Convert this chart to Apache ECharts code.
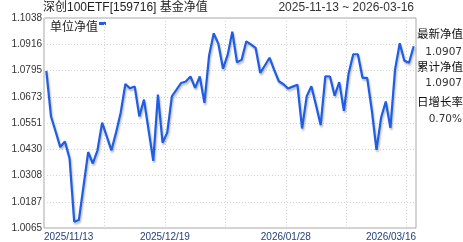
<!DOCTYPE html>
<html>
<head>
<meta charset="utf-8">
<script src="https://cdn.jsdelivr.net/npm/echarts@6/dist/echarts.min.js"></script>
<style>html,body{margin:0;padding:0;background:#fff}#c{width:463px;height:242px}</style>
</head>
<body>
<div id="c"></div>
<script>
const dates = [
  '2025-11-13','2025-11-14','2025-11-17','2025-11-18','2025-11-19','2025-11-20','2025-11-21','2025-11-24','2025-11-25','2025-11-26','2025-11-27','2025-11-28',
  '2025-12-01','2025-12-02','2025-12-03','2025-12-04','2025-12-05','2025-12-08','2025-12-09','2025-12-10','2025-12-11','2025-12-12','2025-12-15','2025-12-16','2025-12-17','2025-12-18','2025-12-19','2025-12-22','2025-12-23','2025-12-24','2025-12-25','2025-12-26','2025-12-29','2025-12-30','2025-12-31',
  '2026-01-05','2026-01-06','2026-01-07','2026-01-08','2026-01-09','2026-01-12','2026-01-13','2026-01-14','2026-01-15','2026-01-16','2026-01-19','2026-01-20','2026-01-21','2026-01-22','2026-01-23','2026-01-26','2026-01-27','2026-01-28','2026-01-29','2026-01-30',
  '2026-02-02','2026-02-03','2026-02-04','2026-02-05','2026-02-06','2026-02-09','2026-02-10','2026-02-11','2026-02-12','2026-02-13','2026-02-24','2026-02-25','2026-02-26','2026-02-27',
  '2026-03-02','2026-03-03','2026-03-04','2026-03-05','2026-03-06','2026-03-09','2026-03-10','2026-03-11','2026-03-12','2026-03-13','2026-03-16'
];
const nav = [
  1.0793,1.0583,1.0512,1.0440,1.0466,1.0387,1.0094,1.0102,1.0259,1.0417,
  1.0364,1.0425,1.0553,1.0489,1.0425,1.0508,1.0600,1.0732,1.0712,1.0721,
  1.0582,1.0660,1.0517,1.0376,1.0683,1.0460,1.0507,1.0675,1.0706,1.0737,
  1.0744,1.0767,1.0714,1.0767,1.0645,1.0863,1.0967,1.0918,1.0803,1.0867,
  1.0975,1.0833,1.0844,1.0930,1.0916,1.0900,1.0784,1.0818,1.0854,1.0798,
  1.0745,1.0731,1.0711,1.0720,1.0729,1.0526,1.0676,1.0722,1.0634,1.0542,
  1.0768,1.0767,1.0678,1.0741,1.0608,1.0780,1.0870,1.0870,1.0761,1.0761,
  1.0610,1.0427,1.0577,1.0651,1.0529,1.0800,1.0921,1.0840,1.0831,1.0907
];
const yTickLabels = ['1.0065','1.0187','1.0308','1.0430','1.0551','1.0673','1.0795','1.0916','1.1038'];
const yRange = [1.0065, 1.1038];
const xTickPos = [0, 26, 52, 80];
const xTickLabels = ['2025/11/13','2025/12/19','2026/01/28','2026/03/16'];
const fundTitle = '深创100ETF[159716] 基金净值';
const rangeText = '2025-11-13 ~ 2026-03-16';
const seriesName = '单位净值';
const infoLabels = ['最新净值','累计净值','日增长率'];
const infoValues = ['1.0907','1.0907','0.70%'];

const LINE = '#1e5ee6';
const FONT = '"Liberation Sans", "Noto Sans CJK SC", sans-serif';
const CJK = '"Noto Sans CJK SC", sans-serif';
const NUM = '"DejaVu Sans", sans-serif';
const dotted = {color:'#d4d4d4', type:[1,2], width:1};

const chart = echarts.init(document.getElementById('c'), null, {renderer:'canvas'});
const infoY = [[34,52],[67,83],[102,119]];
const graphics = [
  {type:'text', x:43, y:8, style:{text:fundTitle, fontSize:12, fontFamily:FONT, fill:'#222', verticalAlign:'middle'}},
  {type:'text', x:414, y:8, style:{text:rangeText, fontSize:12, fontFamily:FONT, fill:'#333', align:'right', verticalAlign:'middle'}},
  {type:'text', x:50, y:26, style:{text:seriesName, fontSize:12, fontFamily:CJK, fill:'#222', verticalAlign:'middle'}},
  {type:'rect', shape:{x:99, y:22, width:7, height:3}, style:{fill:LINE}}
];
infoLabels.forEach((t,i)=>{
  graphics.push({type:'text', x:463, y:infoY[i][0], style:{text:t, fontSize:11.5, fontFamily:CJK, fill:'#111', align:'right', verticalAlign:'middle'}});
  graphics.push({type:'text', x:462, y:infoY[i][1], style:{text:infoValues[i], fontSize:10.5, fontFamily:NUM, fill:'#333', align:'right', verticalAlign:'middle'}});
});

chart.setOption({
  animation:false,
  backgroundColor:'#fff',
  grid:{left:44, top:18, right:47, bottom:14, show:true, borderColor:'#a8a8a8', borderWidth:1, containLabel:false},
  xAxis:[
    {type:'category', data:dates, boundaryGap:true, show:false},
    {type:'value', min:0, max:80, interval:13, position:'bottom',
     axisLine:{show:false}, axisTick:{show:false},
     splitLine:{show:true, lineStyle:dotted},
     axisLabel:{customValues:xTickPos, showMinLabel:true, showMaxLabel:true, alignMinLabel:'left', alignMaxLabel:'right',
       margin:4, fontSize:10, fontFamily:FONT, color:'#23427a',
       formatter:v=>{const k=xTickPos.indexOf(Math.round(v)); return k>=0?xTickLabels[k]:'';}}}
  ],
  yAxis:[
    {type:'value', min:yRange[0], max:yRange[1], show:false},
    {type:'value', min:0, max:yTickLabels.length-1, interval:1, position:'left',
     axisLine:{show:false}, axisTick:{show:false},
     splitLine:{show:true, lineStyle:dotted},
     axisLabel:{margin:2, fontSize:10, fontFamily:FONT, color:'#333', formatter:v=>yTickLabels[Math.round(v)]}}
  ],
  series:[{
    type:'line', name:seriesName, data:nav, xAxisIndex:0, yAxisIndex:0,
    showSymbol:false, symbol:'none', silent:true,
    lineStyle:{width:2.2, color:LINE, shadowColor:'rgba(0,0,0,0.28)', shadowBlur:2, shadowOffsetX:1, shadowOffsetY:2},
    itemStyle:{color:LINE}
  }],
  graphic:graphics
});
</script>
</body>
</html>
